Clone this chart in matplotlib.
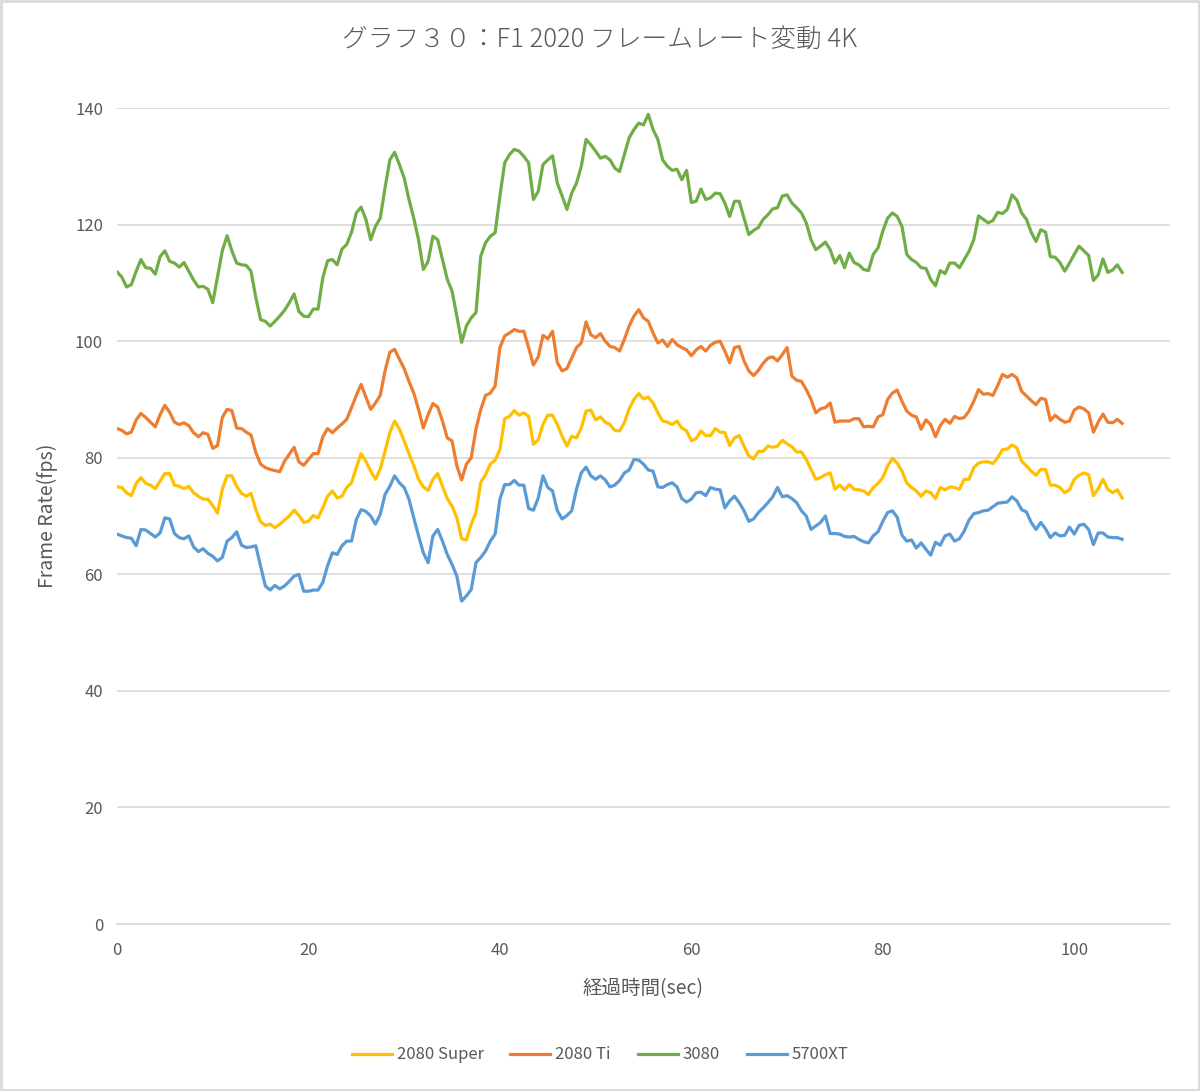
import numpy as np
import matplotlib.pyplot as plt
from matplotlib.patches import Rectangle

plt.rcParams['font.family'] = ['Noto Sans CJK JP', 'DejaVu Sans']

# サンプリング間隔 (sec)
intervalo = 0.5

# Frame rate (fps) - 0.5 sec ごと
fps_2080_super = [
    75, 74.9, 74, 73.5, 75.6, 76.6, 75.6, 75.3, 74.7, 76, 77.3, 77.3, 75.3, 75.1, 74.7, 75.1,
    74, 73.4, 72.9, 72.9, 71.8, 70.5, 74.6, 76.9, 76.9, 75.1, 73.9, 73.4, 73.9, 71.1, 69, 68.4,
    68.6, 68, 68.6, 69.3, 70, 71, 70.1, 68.9, 69.1, 70.1, 69.7, 71.4, 73.4, 74.3, 73.1, 73.4,
    74.9, 75.7, 78.3, 80.7, 79.4, 77.7, 76.3, 78.1, 81.1, 84.3, 86.3, 84.9, 82.9, 80.7, 78.7, 76.3,
    75, 74.4, 76.3, 77.3, 75.1, 73, 71.7, 69.7, 66.1, 65.9, 68.6, 70.6, 75.8, 77.1, 78.9, 79.6,
    81.4, 86.7, 87.1, 88.1, 87.3, 87.7, 87.1, 82.3, 83.1, 85.7, 87.3, 87.3, 85.7, 83.7, 82, 83.7,
    83.4, 85.1, 88, 88.2, 86.5, 87, 86.1, 85.7, 84.7, 84.6, 86, 88.4, 90, 91, 90.1, 90.4,
    89.4, 87.7, 86.3, 86.1, 85.7, 86.3, 85.1, 84.6, 82.9, 83.3, 84.6, 83.8, 83.8, 85, 84.4, 84.3,
    82.1, 83.4, 83.8, 82, 80.3, 79.8, 81.1, 81.1, 82, 81.8, 82, 83, 82.4, 81.9, 81, 81,
    79.7, 78, 76.3, 76.6, 77.1, 77.4, 74.6, 75.3, 74.5, 75.4, 74.6, 74.5, 74.3, 73.7, 74.9, 75.6,
    76.6, 78.6, 79.9, 79.1, 77.7, 75.7, 74.9, 74.3, 73.4, 74.3, 74, 73, 74.9, 74.5, 75, 74.9,
    74.6, 76.3, 76.3, 78.3, 79.1, 79.3, 79.3, 79, 80, 81.4, 81.5, 82.2, 81.7, 79.4, 78.6, 77.7,
    77, 78, 78, 75.3, 75.3, 74.9, 74, 74.5, 76.3, 77, 77.4, 77.1, 73.5, 74.7, 76.3, 74.6,
    74, 74.5, 73.1,
]
fps_2080_ti = [
    85, 84.7, 84.1, 84.4, 86.5, 87.6, 86.9, 86.1, 85.3, 87.4, 89, 87.8, 86.1, 85.7, 86, 85.5,
    84.3, 83.6, 84.3, 84, 81.6, 82.1, 86.9, 88.3, 88.1, 85.1, 85, 84.4, 83.9, 80.9, 78.9, 78.3,
    78, 77.8, 77.6, 79.4, 80.6, 81.8, 79.3, 78.7, 79.7, 80.7, 80.7, 83.6, 85, 84.3, 85.1, 85.8,
    86.6, 88.6, 90.7, 92.6, 90.4, 88.3, 89.4, 90.7, 94.9, 98.1, 98.6, 96.9, 95.3, 93.1, 91.1, 88.3,
    85.1, 87.4, 89.3, 88.7, 86.3, 83.4, 82.9, 78.6, 76.2, 78.9, 80, 84.9, 88.3, 90.7, 91.1, 92.3,
    98.9, 100.9, 101.4, 102, 101.7, 101.7, 98.9, 95.9, 97.3, 101, 100.4, 101.7, 96.3, 94.9, 95.3, 97.1,
    98.9, 99.7, 103.3, 101.1, 100.6, 101.3, 100, 99.1, 98.9, 98.3, 100.3, 102.6, 104.3, 105.4, 104, 103.4,
    101.4, 99.7, 100.2, 99.1, 100.3, 99.4, 98.9, 98.5, 97.5, 98.5, 99.1, 98.3, 99.3, 99.8, 100, 98.3,
    96.3, 98.9, 99.1, 96.6, 94.9, 94.1, 95, 96.2, 97.1, 97.3, 96.6, 97.7, 98.9, 94, 93.3, 93.1,
    91.7, 90, 87.7, 88.4, 88.6, 89.4, 86.1, 86.3, 86.3, 86.3, 86.7, 86.7, 85.3, 85.4, 85.3, 87,
    87.4, 90, 91.1, 91.6, 89.7, 88, 87.3, 87, 84.9, 86.5, 85.7, 83.6, 85.5, 86.6, 85.9, 87.1,
    86.7, 86.9, 88, 89.7, 91.7, 90.9, 91, 90.7, 92.4, 94.3, 93.8, 94.3, 93.7, 91.4, 90.6, 89.8,
    89.1, 90.2, 90, 86.4, 87.3, 86.6, 86.1, 86.3, 88.2, 88.7, 88.4, 87.7, 84.4, 86.1, 87.5, 86.1,
    86, 86.6, 85.9,
]
fps_3080 = [
    111.9, 111, 109.3, 109.7, 112, 114, 112.6, 112.5, 111.5, 114.5, 115.5, 113.7, 113.4, 112.7, 113.5, 112,
    110.5, 109.3, 109.4, 108.9, 106.6, 111, 115.5, 118.1, 115.5, 113.4, 113.1, 113, 112, 107.5, 103.7, 103.4,
    102.6, 103.4, 104.3, 105.3, 106.6, 108.1, 105.1, 104.3, 104.2, 105.5, 105.5, 110.9, 113.8, 114, 113.1, 115.8,
    116.6, 118.7, 122, 123, 120.9, 117.4, 119.7, 121.1, 126.3, 131.1, 132.4, 130.3, 128, 124.3, 121.1, 117.4,
    112.3, 113.7, 118, 117.4, 114, 110.6, 108.6, 104.3, 99.8, 102.6, 104, 104.9, 114.6, 116.9, 118, 118.6,
    124.9, 130.6, 132, 132.9, 132.6, 131.7, 130.6, 124.3, 125.7, 130.3, 131.1, 131.8, 127.1, 124.9, 122.6, 125.4,
    127.1, 130, 134.6, 133.7, 132.6, 131.4, 131.7, 131.1, 129.7, 129.1, 132, 134.9, 136.3, 137.4, 137.1, 138.9,
    136.3, 134.6, 131.1, 130, 129.3, 129.5, 127.7, 129.3, 123.8, 124, 126.1, 124.3, 124.6, 125.4, 125.3, 123.7,
    121.4, 124, 124, 121.1, 118.3, 119, 119.5, 120.9, 121.7, 122.7, 122.9, 124.9, 125.1, 123.7, 122.9, 122,
    120.3, 117.4, 115.7, 116.3, 117, 115.7, 113.4, 114.7, 112.6, 115.1, 113.5, 113.1, 112.3, 112.1, 114.9, 116,
    118.9, 121.1, 122, 121.4, 119.7, 114.9, 114, 113.5, 112.6, 112.5, 110.6, 109.5, 112.1, 111.6, 113.4, 113.4,
    112.6, 114, 115.4, 117.4, 121.5, 120.9, 120.3, 120.7, 122.1, 121.9, 122.6, 125.1, 124.2, 122, 120.9, 118.7,
    117.1, 119.1, 118.7, 114.5, 114.4, 113.5, 112, 113.4, 114.9, 116.3, 115.5, 114.7, 110.4, 111.4, 114.1, 111.8,
    112.2, 113.1, 111.8,
]
fps_5700xt = [
    66.9, 66.6, 66.3, 66.2, 64.9, 67.7, 67.6, 67, 66.4, 67.1, 69.7, 69.5, 67, 66.3, 66.1, 66.6,
    64.7, 63.9, 64.4, 63.6, 63.1, 62.3, 62.9, 65.7, 66.3, 67.3, 65, 64.6, 64.7, 64.9, 61.4, 58,
    57.3, 58.1, 57.5, 58, 58.8, 59.7, 60, 57.1, 57.1, 57.3, 57.3, 58.6, 61.5, 63.7, 63.4, 64.9,
    65.7, 65.7, 69.4, 71.1, 70.8, 70, 68.6, 70.3, 73.7, 75.1, 76.9, 75.7, 74.9, 72.9, 69.7, 66.6,
    63.7, 62, 66.6, 67.7, 65.7, 63.4, 61.7, 59.7, 55.4, 56.3, 57.4, 62, 62.9, 64, 65.7, 66.9,
    72.9, 75.4, 75.4, 76.1, 75.3, 75.3, 71.3, 71, 73.1, 76.9, 74.9, 74.3, 70.9, 69.5, 70.1, 70.9,
    74.6, 77.4, 78.4, 76.9, 76.3, 76.9, 76.2, 75, 75.3, 76.1, 77.4, 77.9, 79.7, 79.6, 78.9, 77.9,
    77.7, 75, 74.9, 75.4, 75.7, 75, 73, 72.4, 72.9, 74, 74.1, 73.5, 74.9, 74.6, 74.5, 71.4,
    72.6, 73.4, 72.3, 70.9, 69.1, 69.5, 70.6, 71.4, 72.3, 73.3, 74.9, 73.3, 73.5, 73, 72.3, 70.9,
    70, 67.7, 68.3, 68.9, 70, 67, 67, 66.9, 66.5, 66.4, 66.5, 66, 65.6, 65.4, 66.6, 67.3,
    69.1, 70.6, 70.9, 69.8, 66.7, 65.7, 65.9, 64.5, 65.4, 64.3, 63.3, 65.5, 65, 66.6, 66.9, 65.7,
    66.1, 67.4, 69.3, 70.4, 70.6, 70.9, 71, 71.6, 72.2, 72.3, 72.4, 73.3, 72.6, 71.1, 70.7, 68.9,
    67.7, 68.9, 67.8, 66.3, 67.1, 66.6, 66.7, 68.1, 66.9, 68.4, 68.6, 67.7, 65.1, 67.1, 67.1, 66.4,
    66.3, 66.3, 66,
]

series = ['2080 Super', '2080 Ti', '3080', '5700XT']
dados = [fps_2080_super, fps_2080_ti, fps_3080, fps_5700xt]
cores = ['#FFC000', '#ED7D31', '#70AD47', '#5B9BD5']

cinza = '#595959'

fig = plt.figure(figsize=(12, 10.91), dpi=100)
ax = fig.add_axes([0.0975, 0.153, 0.8775, 0.748])

for nome, valores, cor in zip(series, dados, cores):
    tempo = np.arange(len(valores)) * intervalo
    ax.plot(tempo, valores, color=cor, linewidth=2.3, label=nome)

ax.set_xlim(0, 110)
ax.set_ylim(0, 140)
ax.set_xticks([0, 20, 40, 60, 80, 100])
ax.set_yticks(range(0, 141, 20))

# gridlines horizontais apenas
ax.grid(axis='y', color='#d9d9d9', linewidth=1.2)
ax.set_axisbelow(True)
for lado in ['top', 'right', 'left']:
    ax.spines[lado].set_visible(False)
ax.spines['bottom'].set_color('#d9d9d9')
ax.spines['bottom'].set_linewidth(1.2)
ax.tick_params(axis='both', length=0, labelsize=12, labelcolor=cinza)
ax.tick_params(axis='x', pad=13)
ax.tick_params(axis='y', pad=10)

ax.set_xlabel('経過時間(sec)', fontsize=14, color=cinza, labelpad=14)
ax.set_ylabel('Frame Rate(fps)', fontsize=14, color=cinza, labelpad=12)
fig.text(0.5, 0.963, 'グラフ３０：F1 2020 フレームレート変動 4K', ha='center', va='center',
         fontsize=18.5, color=cinza, fontweight='light')

fig.legend(loc='center', bbox_to_anchor=(0.5, 0.033), ncol=4, frameon=False,
           fontsize=12, labelcolor=cinza, handlelength=2.4, handletextpad=0.3,
           columnspacing=1.6)

# moldura cinza em volta da figura
fig.patches.append(Rectangle((0.001, 0.001), 0.998, 0.998, transform=fig.transFigure,
                             fill=False, edgecolor='#d9d9d9', linewidth=2))

plt.savefig('out.png', dpi=100)
